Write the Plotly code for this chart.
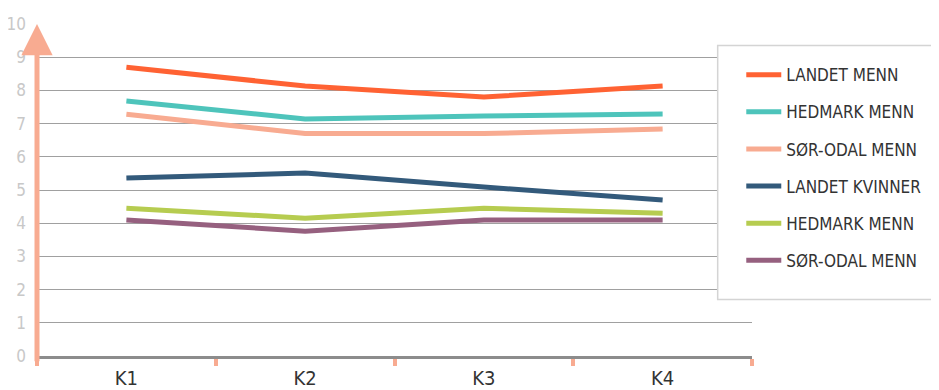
import plotly.graph_objects as go

categories = ["K1", "K2", "K3", "K4"]
series_names = ["LANDET MENN", "HEDMARK MENN", "SØR-ODAL MENN",
                "LANDET KVINNER", "HEDMARK MENN", "SØR-ODAL MENN"]
landet_menn = [8.7, 8.13, 7.8, 8.13]
hedmark_menn = [7.68, 7.14, 7.23, 7.29]
sorodal_menn = [7.28, 6.7, 6.7, 6.84]
landet_kvinner = [5.36, 5.51, 5.09, 4.7]
hedmark_menn2 = [4.45, 4.15, 4.45, 4.3]
sorodal_menn2 = [4.1, 3.76, 4.1, 4.1]
y_ticks = list(range(0, 11))

all_values = [landet_menn, hedmark_menn, sorodal_menn,
              landet_kvinner, hedmark_menn2, sorodal_menn2]
colors = ["#FF6233", "#4EC4BB", "#F8AB91", "#335A7B", "#B6CC50", "#96607F"]

FONT = "DejaVu Sans Condensed, Roboto, sans-serif"

fig = go.Figure()
for i, (name, vals, col) in enumerate(zip(series_names, all_values, colors)):
    fig.add_trace(go.Scatter(
        x=categories, y=vals, name=name, mode="lines",
        line=dict(color=col, width=5), legendgroup=f"g{i}"))

fig.add_annotation(
    x=0, xref="paper", y=10, yref="y",
    ax=0, axref="pixel", ay=-0.2, ayref="y",
    showarrow=True, arrowhead=2, arrowsize=1.25, arrowwidth=5,
    arrowcolor="#F8AB91", text="")

# legend frame
fig.add_shape(type="rect", xref="paper", yref="paper",
              x0=0.952, x1=1.3, y0=0.17, y1=0.935,
              line=dict(color="#d4d4d4", width=1.5), fillcolor="white",
              layer="above")

fig.update_layout(
    width=931, height=382,
    margin=dict(l=29, r=187, t=16, b=34, autoexpand=False),
    paper_bgcolor="white", plot_bgcolor="white",
    font=dict(family=FONT),
    showlegend=True,
    legend=dict(
        x=0.985, y=0.90, xanchor="left", yanchor="top",
        font=dict(family=FONT, size=17, color="#333", weight=300),
        borderwidth=0, bgcolor="rgba(0,0,0,0)",
        tracegroupgap=12, itemwidth=35,
    ),
    xaxis=dict(
        type="category", range=[-0.5, 3.5], automargin=False,
        showgrid=False, showline=True, linecolor="#8c8c8c", linewidth=3,
        ticks="outside", tickson="boundaries", tickcolor="#F8AB91",
        ticklen=7, tickwidth=4, ticklabelstandoff=2,
        tickfont=dict(family=FONT, size=20, color="#333", weight=300),
        zeroline=False,
    ),
    yaxis=dict(
        range=[0, 10], tickvals=y_ticks, automargin=False,
        showgrid=True, gridcolor="#a0a0a0", gridwidth=1,
        tickfont=dict(family=FONT, size=17, color="#c8c8c8", weight=300),
        zeroline=False, showline=False, ticks="", ticklabelstandoff=10,
    ),
)

fig.write_html("out.html")
